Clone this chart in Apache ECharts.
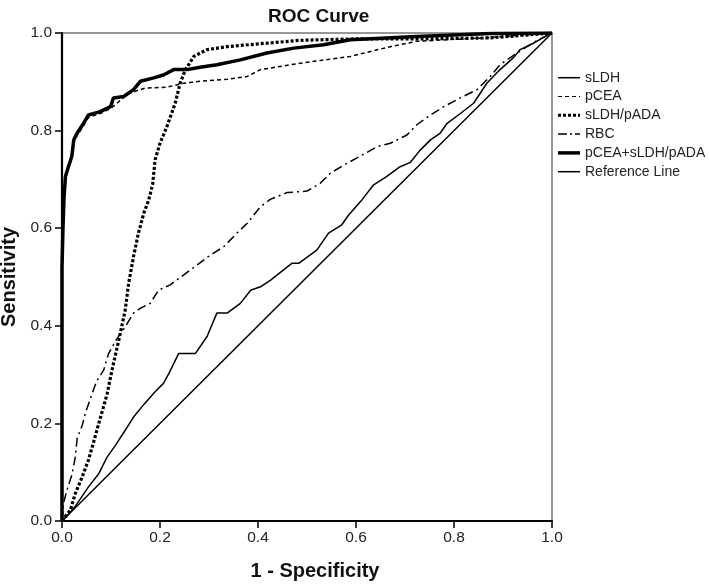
<!DOCTYPE html>
<html><head><meta charset="utf-8">
<script src="https://cdn.jsdelivr.net/npm/echarts@6/dist/echarts.min.js"></script>
<style>html,body{margin:0;padding:0;background:#fff}#c{width:709px;height:587px}</style>
</head><body><div id="c"></div>
<script>
const tickLabels = ['0.0','0.2','0.4','0.6','0.8','1.0'];
const seriesNames = ['sLDH','pCEA','sLDH/pADA','RBC','pCEA+sLDH/pADA','Reference Line'];

const sLDH = [[0,0],[0.01,0.01],[0.027,0.03],[0.054,0.07],[0.075,0.097],[0.092,0.131],[0.109,0.155],[0.129,0.186],[0.146,0.213],[0.168,0.24],[0.19,0.265],[0.207,0.282],[0.218,0.302],[0.238,0.343],[0.272,0.343],[0.296,0.378],[0.316,0.426],[0.337,0.426],[0.364,0.446],[0.385,0.473],[0.405,0.48],[0.425,0.493],[0.469,0.528],[0.483,0.528],[0.52,0.555],[0.544,0.59],[0.571,0.607],[0.585,0.627],[0.612,0.658],[0.636,0.689],[0.663,0.706],[0.69,0.726],[0.711,0.735],[0.731,0.76],[0.752,0.781],[0.772,0.795],[0.786,0.815],[0.813,0.835],[0.84,0.856],[0.867,0.897],[0.894,0.925],[0.922,0.95],[0.935,0.966],[0.962,0.979],[0.99,0.995],[1,1]];

const pCEA = [[0,0],[0,0.52],[0.002,0.6],[0.004,0.66],[0.007,0.7],[0.013,0.722],[0.02,0.742],[0.024,0.776],[0.031,0.79],[0.044,0.81],[0.054,0.827],[0.078,0.835],[0.099,0.845],[0.112,0.856],[0.133,0.874],[0.153,0.882],[0.17,0.887],[0.214,0.889],[0.248,0.897],[0.282,0.901],[0.337,0.905],[0.378,0.911],[0.405,0.925],[0.486,0.938],[0.588,0.952],[0.67,0.972],[0.724,0.983],[0.86,0.99],[1,1]];

const sLDHpADA = [[0,0],[0.003,0.005],[0.017,0.022],[0.027,0.056],[0.041,0.09],[0.054,0.125],[0.064,0.16],[0.075,0.2],[0.085,0.235],[0.092,0.26],[0.102,0.309],[0.116,0.371],[0.129,0.432],[0.136,0.487],[0.146,0.542],[0.156,0.59],[0.167,0.631],[0.177,0.658],[0.185,0.69],[0.19,0.74],[0.2,0.774],[0.214,0.808],[0.231,0.856],[0.241,0.897],[0.252,0.925],[0.269,0.952],[0.296,0.966],[0.337,0.972],[0.405,0.978],[0.486,0.985],[0.6,0.988],[0.75,0.988],[0.874,0.99],[1,1]];

const RBC = [[0,0],[0.003,0.036],[0.01,0.063],[0.02,0.094],[0.027,0.13],[0.031,0.17],[0.041,0.195],[0.048,0.222],[0.061,0.26],[0.071,0.287],[0.085,0.309],[0.095,0.343],[0.11,0.37],[0.129,0.398],[0.146,0.426],[0.16,0.436],[0.18,0.446],[0.197,0.473],[0.221,0.484],[0.248,0.504],[0.276,0.525],[0.303,0.545],[0.33,0.562],[0.357,0.59],[0.378,0.61],[0.405,0.644],[0.425,0.659],[0.459,0.673],[0.5,0.676],[0.527,0.692],[0.548,0.713],[0.582,0.733],[0.602,0.744],[0.643,0.767],[0.67,0.774],[0.704,0.791],[0.724,0.812],[0.752,0.832],[0.779,0.849],[0.813,0.867],[0.847,0.884],[0.874,0.911],[0.894,0.935],[0.93,0.96],[0.97,0.985],[1,1]];

const combined = [[0,0],[0,0.52],[0.002,0.6],[0.004,0.66],[0.007,0.706],[0.013,0.726],[0.02,0.747],[0.024,0.781],[0.031,0.795],[0.044,0.815],[0.054,0.832],[0.078,0.839],[0.099,0.849],[0.105,0.867],[0.126,0.87],[0.146,0.884],[0.16,0.901],[0.187,0.908],[0.207,0.914],[0.228,0.925],[0.255,0.925],[0.282,0.93],[0.316,0.935],[0.364,0.945],[0.418,0.959],[0.473,0.969],[0.534,0.976],[0.588,0.986],[0.724,0.993],[0.874,0.999],[1,1]];

const refLine = [[0,0],[1,1]];

const FONT = 'Liberation Sans, Arial, sans-serif';
const chart = echarts.init(document.getElementById('c'), null, {renderer:'canvas'});

function mk(name, data, width, type, z) {
  return {
    name: name, type: 'line', data: data, showSymbol: false, symbol: 'none',
    itemStyle: {color: '#000'},
    lineStyle: {color: '#000', width: width, type: type, cap: 'butt'},
    z: z, animation: false, silent: true
  };
}

// legend sample icons (box 22 x 14)
const BOX = 'M0,0L0,0M22,14L22,14';
const legendIcons = [
  'path://' + BOX + 'M0,6.25H22V7.75H0Z',
  'path://' + BOX + 'M0,6.4H4V7.6H0ZM7,6.4H11V7.6H7ZM14,6.4H18V7.6H14ZM21,6.4H22V7.6H21Z',
  'path://' + BOX + 'M0,5.5H3V8.5H0ZM5,5.5H8V8.5H5ZM10,5.5H13V8.5H10ZM15,5.5H18V8.5H15ZM20,5.5H22V8.5H20Z',
  'path://' + BOX + 'M0,6.25H9V7.75H0ZM12,6.25H14V7.75H12ZM17,6.25H22V7.75H17Z',
  'path://' + BOX + 'M0,5.25H22V8.75H0Z',
  'path://' + BOX + 'M0,6.25H22V7.75H0Z'
];

const axisCommon = {
  type: 'value', min: 0, max: 1, interval: 0.2,
  axisLine: {show: true, lineStyle: {color: '#000', width: 2.2}},
  axisTick: {show: true, length: 7, lineStyle: {color: '#000', width: 1.5}},
  splitLine: {show: false},
  axisLabel: {color: '#222', fontSize: 15.5, fontFamily: FONT,
    formatter: v => tickLabels[Math.round(v * 5)]},
  nameLocation: 'middle',
  nameTextStyle: {color: '#111', fontSize: 20, fontWeight: 'bold', fontFamily: FONT}
};

chart.setOption({
  backgroundColor: '#fff',
  animation: false,
  title: {text: 'ROC Curve', left: 263, top: 2,
    textStyle: {fontSize: 19, fontWeight: 'bold', color: '#111', fontFamily: FONT}},
  grid: {left: 62, right: 157, top: 33, bottom: 66, show: true,
    containLabel: false, outerBoundsMode: 'none',
    borderColor: '#777', borderWidth: 1.5, backgroundColor: 'transparent'},
  legend: {
    orient: 'vertical', left: 553, top: 65.7, itemGap: 4.8, itemWidth: 22, itemHeight: 14,
    symbolKeepAspect: false,
    itemStyle: {color: '#000', borderWidth: 0},
    textStyle: {fontSize: 14, lineHeight: 14, color: '#222', fontFamily: FONT},
    data: seriesNames.map((n, i) => ({name: n, icon: legendIcons[i], itemStyle: {color: '#000', borderWidth: 0}})),
    selectedMode: false
  },
  xAxis: Object.assign({}, axisCommon, {name: '1 - Specificity', nameGap: 40,
    nameTextStyle: Object.assign({}, axisCommon.nameTextStyle, {padding: [0, 0, 0, 16]}),
    axisLabel: Object.assign({}, axisCommon.axisLabel, {margin: 9})}),
  yAxis: Object.assign({}, axisCommon, {name: 'Sensitivity', nameGap: 34,
    axisLabel: Object.assign({}, axisCommon.axisLabel, {margin: 10})}),
  series: [
    mk(seriesNames[0], sLDH, 1.5, 'solid', 3),
    mk(seriesNames[1], pCEA, 1.5, [4, 3], 4),
    mk(seriesNames[2], sLDHpADA, 3.2, [3, 2], 5),
    mk(seriesNames[3], RBC, 1.5, [9, 4, 2, 4], 4),
    mk(seriesNames[4], combined, 3.5, 'solid', 6),
    mk(seriesNames[5], refLine, 1.5, 'solid', 2)
  ]
});
</script></body></html>
